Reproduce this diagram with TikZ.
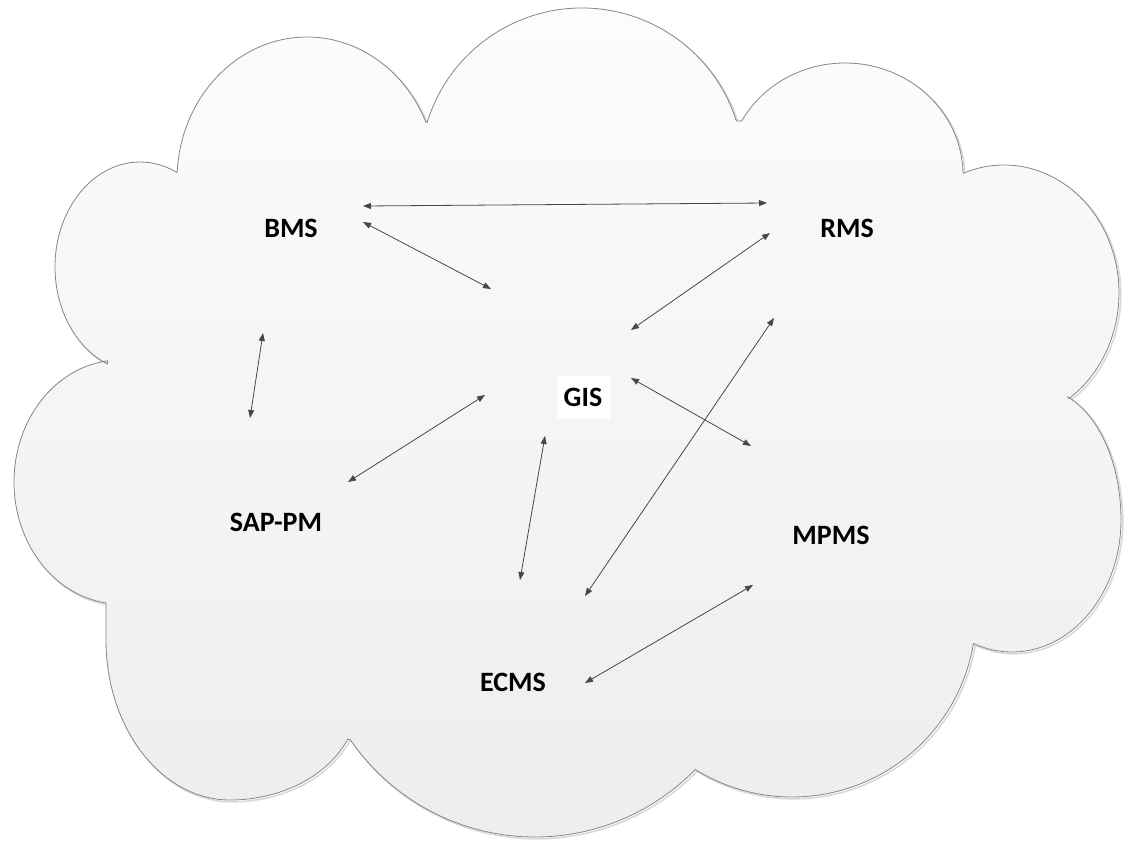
\documentclass[tikz,border=0pt]{standalone}
\usepackage{fontspec}
\setmainfont{Carlito}
\usetikzlibrary{arrows.meta,calc}

% outline of the cloud: one elliptical arc per lobe, lobes meet at sharp cusps
\newcommand\cloudoutline{%
  ($(140,267)+(112.6:85 and 105)$) arc[start angle=112.6,end angle=295.7,x radius=85,y radius=105]
  -- ($(307,180)+(183.2:130 and 143)$) arc[start angle=183.2,end angle=336.1,x radius=130,y radius=143]
  -- ($(582,170)+(197.1:162 and 162)$) arc[start angle=197.1,end angle=342.4,x radius=162,y radius=162]
  -- ($(845,175)+(208.9:118 and 112)$) arc[start angle=208.9,end angle=358.5,x radius=118,y radius=112]
  -- ($(1004,293)+(249.3:115 and 128)$) arc[start angle=249.3,end angle=415.6,x radius=115,y radius=128]
  -- ($(1040,520)+(290.2:81 and 131)$) arc[start angle=290.2,end angle=360,x radius=81,y radius=131]
     arc[start angle=0,end angle=110.7,x radius=109,y radius=132]
  -- ($(792,613)+(10:184 and 184)$) arc[start angle=10,end angle=121.4,x radius=184,y radius=184]
  -- ($(535,613)+(44.3:224 and 224)$) arc[start angle=44.3,end angle=145.5,x radius=224,y radius=224]
  -- ($(230,700)+(23.1:128 and 100)$) arc[start angle=23.1,end angle=90,x radius=128,y radius=100]
     arc[start angle=90,end angle=180,x radius=124,y radius=160]
  -- ($(120,482)+(97.6:106 and 122)$) arc[start angle=97.6,end angle=263.4,x radius=106,y radius=122]
  -- cycle}

\tikzset{
  sysname/.style={font=\fontsize{28}{30}\selectfont\bfseries, text=black, inner sep=0pt},
  link/.style={draw=black!72, line width=0.8pt,
    {Triangle[length=8pt,width=6pt]}-{Triangle[length=8pt,width=6pt]}},
  cloudfill/.style={top color=gray!2, bottom color=gray!14, draw=gray!95, line width=0.8pt},
  cloudshadow/.style={draw=gray!30, line width=1.6pt}
}

\begin{document}
\begin{tikzpicture}[x=1pt,y=1pt,yscale=-1]
  \fill[white] (0,0) rectangle (1126,841);
  \useasboundingbox (0,0) rectangle (1126,841);

  % cloud with a faint drop shadow
  \draw[cloudshadow, shift={(1.8,1.8)}] \cloudoutline;
  \path[cloudfill] \cloudoutline;

  % systems
  \node[sysname] (bms)  at (291,228) {BMS};
  \node[sysname] (rms)  at (847,228) {RMS};
  \node[sysname, fill=white, minimum width=53pt, minimum height=43pt] (gis) at (583,397) {GIS};
  \node[sysname] (sap)  at (276,522) {SAP-PM};
  \node[sysname] (mpms) at (831,535) {MPMS};
  \node[sysname] (ecms) at (513,682) {ECMS};

  % free ends of the interfaces
  \coordinate (bmsR)   at (363,206);  \coordinate (rmsL)   at (767,203);
  \coordinate (bmsG)   at (363,222);  \coordinate (gisB)   at (491,289);
  \coordinate (rmsG)   at (770,233);  \coordinate (gisR)   at (631,330);
  \coordinate (bmsS)   at (263,333);  \coordinate (sapB)   at (250,418);
  \coordinate (sapG)   at (348,482);  \coordinate (gisS)   at (485,395);
  \coordinate (gisM)   at (631,378);  \coordinate (mpmsG)  at (751,446);
  \coordinate (gisE)   at (545,436);  \coordinate (ecmsG)  at (520,580);
  \coordinate (rmsE)   at (774,318);  \coordinate (ecmsR)  at (585,596);
  \coordinate (mpmsE)  at (753,585);  \coordinate (ecmsM)  at (585,683);

  % interfaces
  \draw[link] (bmsR) -- (rmsL);
  \draw[link] (bmsG) -- (gisB);
  \draw[link] (rmsG) -- (gisR);
  \draw[link] (bmsS) -- (sapB);
  \draw[link] (sapG) -- (gisS);
  \draw[link] (gisM) -- (mpmsG);
  \draw[link] (gisE) -- (ecmsG);
  \draw[link] (rmsE) -- (ecmsR);
  \draw[link] (mpmsE) -- (ecmsM);
\end{tikzpicture}
\end{document}
